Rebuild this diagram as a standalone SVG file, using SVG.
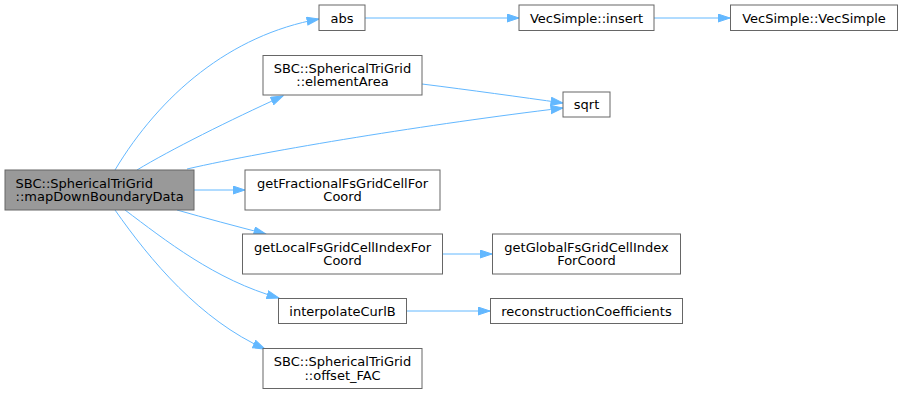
<svg xmlns="http://www.w3.org/2000/svg" width="903" height="394" viewBox="0 0 903 394">
<style>
.n rect{fill:#ffffff;stroke:#666666;stroke-width:1}
.n.main rect{fill:#999999}
.n text{font-family:"DejaVu Sans",sans-serif;font-size:13px;fill:#000000;text-anchor:middle}
.n.main text{text-anchor:start}
.e path{fill:none;stroke:#63b8ff;stroke-width:1;marker-end:url(#ah)}
</style>
<defs>
<marker id="ah" markerUnits="userSpaceOnUse" markerWidth="14" markerHeight="10" refX="12.5" refY="4.5" orient="auto">
<path d="M0.5,0.5 L12.5,4.5 L0.5,8.5 z" fill="#63b8ff" stroke="#63b8ff" stroke-width="1"/>
</marker>
</defs>
<g id="edges" class="e">
<path d="M115,170 C160,95 230,35 319,19"/>
<path d="M137,170 C170,150 230,120 283,96"/>
<path d="M187,169 C270,150 430,124 563,108"/>
<path d="M194,190 L245,190"/>
<path d="M177,210 C205,218 235,226 266,234"/>
<path d="M125,210 C165,240 215,280 279,298"/>
<path d="M115,210 C150,260 200,320 265,349"/>
<path d="M422,84 C470,90 520,97 563,103"/>
<path d="M365,18 L519,18"/>
<path d="M654,18 L730,18"/>
<path d="M443,254 L492,254"/>
<path d="M407,311 L490,311"/>
</g>
<g id="node-main" class="n main"><rect x="5" y="170" width="189" height="40"/><text x="15.5" y="187.5">SBC::SphericalTriGrid</text><text x="15.5" y="201">::mapDownBoundaryData</text></g>
<g id="node-abs" class="n"><rect x="319" y="5" width="46" height="25.5"/><text x="342" y="22.5">abs</text></g>
<g id="node-insert" class="n"><rect x="519" y="5" width="135" height="25.5"/><text x="586.5" y="22.5">VecSimple::insert</text></g>
<g id="node-vecsimple" class="n"><rect x="730.5" y="5" width="167" height="25.5"/><text x="814" y="22.5">VecSimple::VecSimple</text></g>
<g id="node-elementarea" class="n"><rect x="263" y="55.5" width="159" height="39.5"/><text x="342.5" y="72.7">SBC::SphericalTriGrid</text><text x="342.5" y="86.2">::elementArea</text></g>
<g id="node-sqrt" class="n"><rect x="563" y="92" width="47" height="25"/><text x="586.5" y="109.3">sqrt</text></g>
<g id="node-getfractional" class="n"><rect x="245" y="170" width="195" height="40"/><text x="342.5" y="187.5">getFractionalFsGridCellFor</text><text x="342.5" y="201">Coord</text></g>
<g id="node-getlocal" class="n"><rect x="242.5" y="234" width="200" height="40"/><text x="342.5" y="251.5">getLocalFsGridCellIndexFor</text><text x="342.5" y="265">Coord</text></g>
<g id="node-getglobal" class="n"><rect x="492.5" y="234" width="188" height="40"/><text x="586.5" y="251.5">getGlobalFsGridCellIndex</text><text x="586.5" y="265">ForCoord</text></g>
<g id="node-interpolatecurlb" class="n"><rect x="278.5" y="298.5" width="128" height="25"/><text x="342.5" y="315.8">interpolateCurlB</text></g>
<g id="node-reconstruction" class="n"><rect x="490.5" y="298.5" width="192" height="25"/><text x="586.5" y="315.8">reconstructionCoefficients</text></g>
<g id="node-offsetfac" class="n"><rect x="263" y="348.5" width="159" height="40"/><text x="342.5" y="366">SBC::SphericalTriGrid</text><text x="342.5" y="379.5">::offset_FAC</text></g>
</svg>
